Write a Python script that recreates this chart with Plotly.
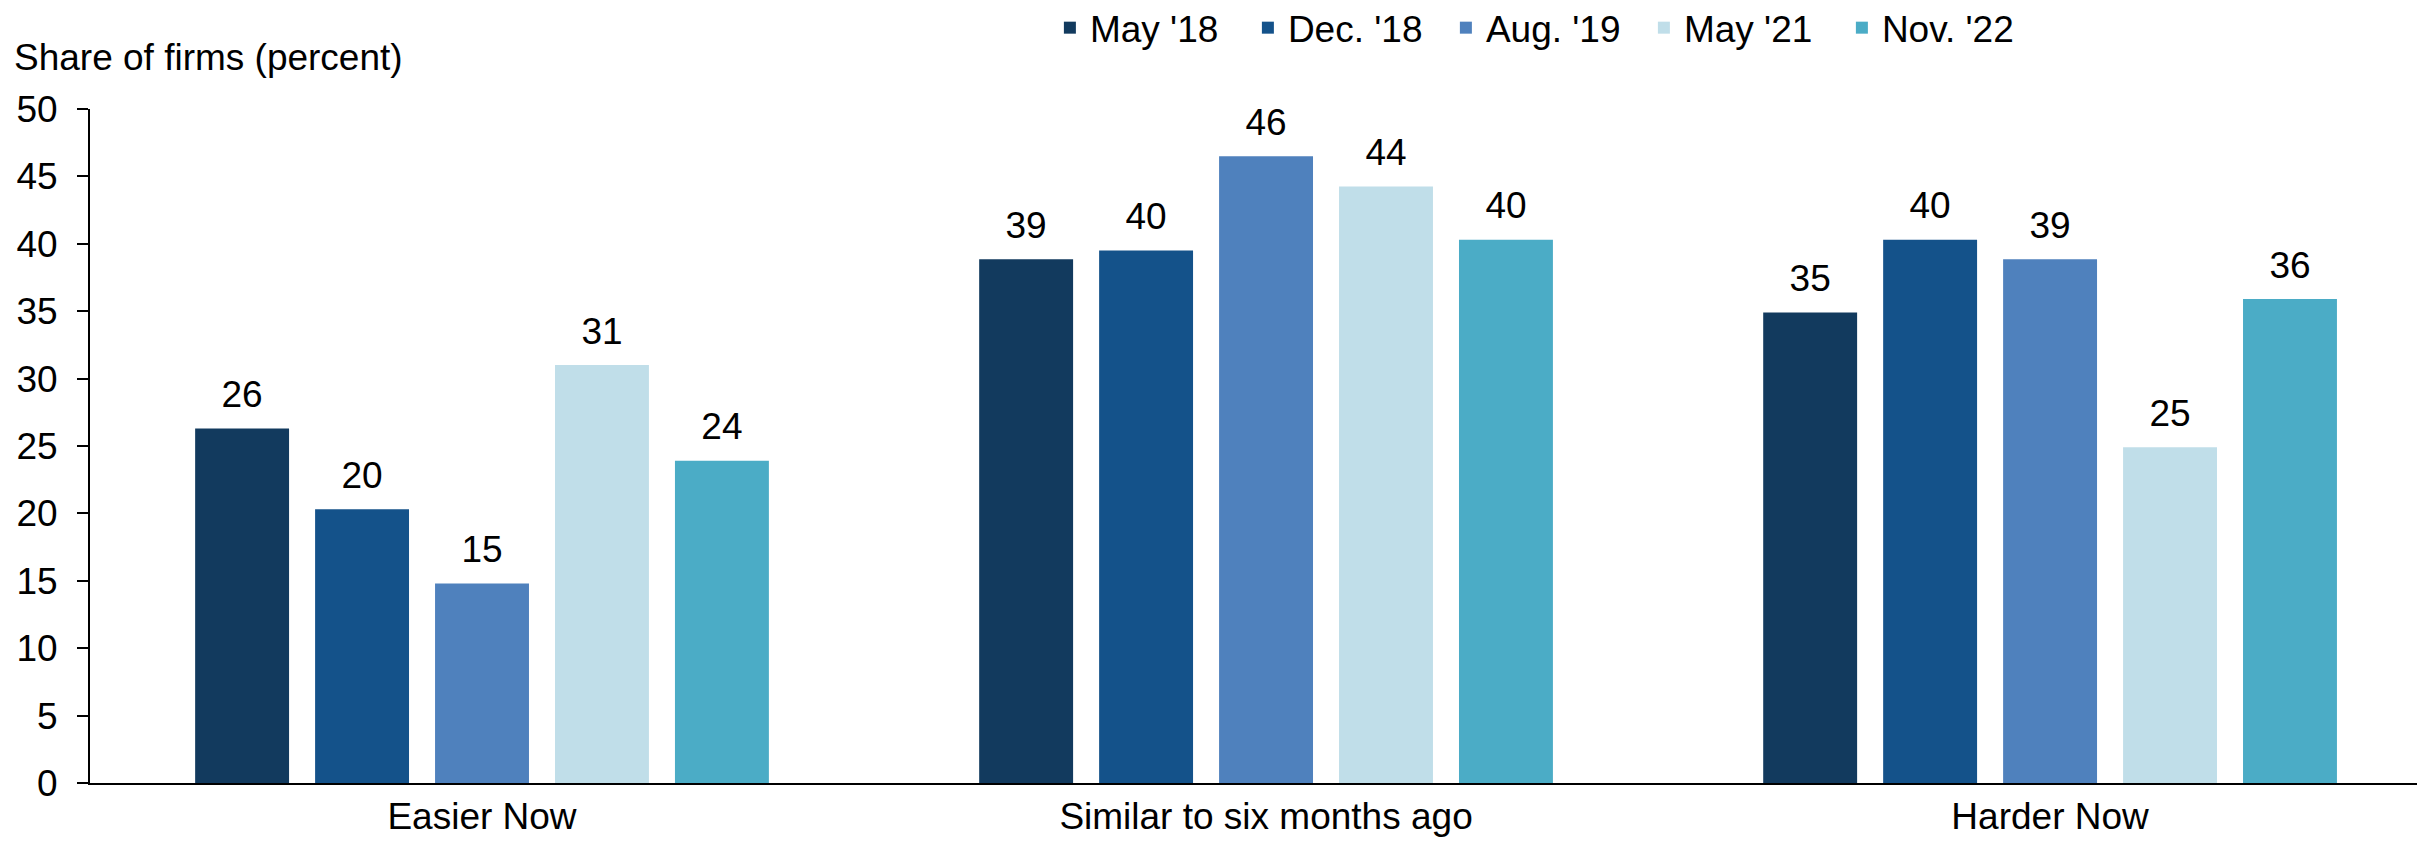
import plotly.graph_objects as go

categories = ["Easier Now", "Similar to six months ago", "Harder Now"]
series_names = ["May '18", "Dec. '18", "Aug. '19", "May '21", "Nov. '22"]
may18 = [26.3, 38.85, 34.9]
dec18 = [20.3, 39.5, 40.3]
aug19 = [14.8, 46.5, 38.85]
may21 = [31.0, 44.25, 24.9]
nov22 = [23.9, 40.3, 35.9]
labels_may18 = ["26", "39", "35"]
labels_dec18 = ["20", "40", "40"]
labels_aug19 = ["15", "46", "39"]
labels_may21 = ["31", "44", "25"]
labels_nov22 = ["24", "40", "36"]
colors = ["#123A5E", "#14528A", "#4F81BD", "#C0DEE9", "#4BACC6"]
y_ticks = [0, 5, 10, 15, 20, 25, 30, 35, 40, 45, 50]

FONT = "Arial, Liberation Sans, sans-serif"
FS = 37

fig = go.Figure()
all_vals = [may18, dec18, aug19, may21, nov22]
all_labs = [labels_may18, labels_dec18, labels_aug19, labels_may21, labels_nov22]
for name, vals, col in zip(series_names, all_vals, colors):
    fig.add_trace(go.Bar(
        x=categories, y=vals, name=name, marker_color=col, marker_line_width=0,
        hoverinfo="skip",
    ))
for name, vals, labs in zip(series_names, all_vals, all_labs):
    fig.add_trace(go.Scatter(
        x=categories, y=vals, mode="markers+text", text=labs,
        textposition="top center", showlegend=False, cliponaxis=False,
        marker=dict(size=18, opacity=0, color="white"),
        textfont=dict(family=FONT, size=FS, color="black"),
        hoverinfo="skip",
    ))

fig.update_layout(
    width=2409, height=830,
    margin=dict(l=82, r=0, t=101, b=55, autoexpand=False),
    plot_bgcolor="white", paper_bgcolor="white",
    font=dict(family=FONT, size=FS, color="black"),
    barmode="group", bargap=0.235, bargroupgap=0.217,
    scattermode="group", scattergap=0.235,
    showlegend=True,
    legend=dict(orientation="h", x=0.4125, xanchor="left", y=1.12, yanchor="middle",
                font=dict(family=FONT, size=FS, color="black"),
                entrywidth=153, entrywidthmode="pixels", itemclick=False,
                bgcolor="rgba(0,0,0,0)"),
)
fig.update_yaxes(range=[0, 50], tickvals=y_ticks, showgrid=False, zeroline=False,
                 showline=True, linecolor="black", linewidth=2,
                 ticks="outside", ticklen=11, tickwidth=2, tickcolor="black",
                 ticklabelstandoff=12,
                 tickfont=dict(family=FONT, size=FS, color="black"))
fig.update_xaxes(range=[-0.5, 2.468], showgrid=False, showline=True, linecolor="black", linewidth=2,
                 ticks="", ticklabelstandoff=0,
                 tickfont=dict(family=FONT, size=FS, color="black"))
fig.add_annotation(text="Share of firms (percent)", xref="paper", yref="paper",
                   x=-0.0335, y=1.077, xanchor="left", yanchor="middle",
                   showarrow=False, font=dict(family=FONT, size=FS, color="black"))

fig.write_html("out.html")
